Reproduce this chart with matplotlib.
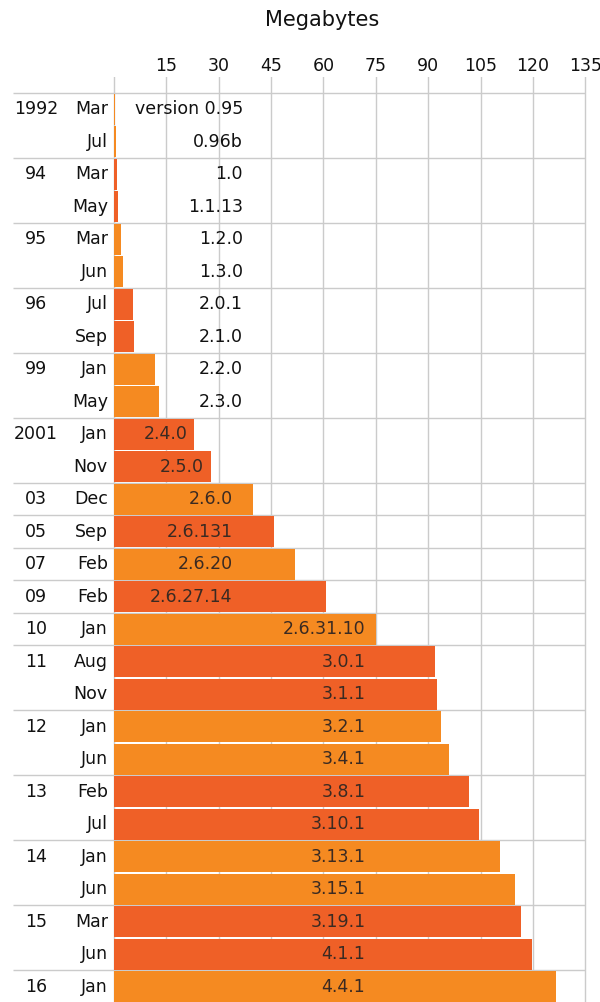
import matplotlib
matplotlib.use("Agg")
from matplotlib import pyplot as plt

# Linux kernel tarball sizes (MB)
years = ["1992", "", "94", "", "95", "", "96", "", "99", "", "2001", "",
         "03", "05", "07", "09", "10", "11", "", "12", "", "13", "", "14", "",
         "15", "", "16"]
months = ["Mar", "Jul", "Mar", "May", "Mar", "Jun", "Jul", "Sep", "Jan", "May",
          "Jan", "Nov", "Dec", "Sep", "Feb", "Feb", "Jan", "Aug", "Nov", "Jan",
          "Jun", "Feb", "Jul", "Jan", "Jun", "Mar", "Jun", "Jan"]
versions = ["version 0.95", "0.96b", "1.0", "1.1.13", "1.2.0", "1.3.0", "2.0.1",
            "2.1.0", "2.2.0", "2.3.0", "2.4.0", "2.5.0", "2.6.0", "2.6.131",
            "2.6.20", "2.6.27.14", "2.6.31.10", "3.0.1", "3.1.1", "3.2.1",
            "3.4.1", "3.8.1", "3.10.1", "3.13.1", "3.15.1", "3.19.1", "4.1.1",
            "4.4.1"]
sizes = [0.4, 0.5, 0.9, 1.1, 2.2, 2.5, 5.5, 5.8, 11.8, 12.9, 23.0, 27.8,
         39.8, 45.8, 51.8, 60.6, 75.0, 91.8, 92.6, 93.7, 95.9, 101.7, 104.6,
         110.6, 114.7, 116.6, 119.7, 126.6]
ticks = [15, 30, 45, 60, 75, 90, 105, 120, 135]

light = "#f58a21"
dark = "#ef6027"
grid_c = "#cbcbcb"
txt = "#111111"

plt.rcParams["font.family"] = ["DejaVu Sans"]

fig = plt.figure(figsize=(6, 10.02), dpi=100)
ax = fig.add_axes([0, 0, 1, 1 - 77 / 1002])

# group index -> alternating colours
group = -1
groups = []
for y in years:
    if y:
        group += 1
    groups.append(group)
colors = [light if g % 2 == 0 else dark for g in groups]

rows = list(range(len(sizes)))
ax.barh(rows, sizes, height=0.94, color=colors, zorder=3)

ax.set_xlim(-32.57, 139.16)
ax.set_ylim(27.47, -0.992)
for s in ax.spines.values():
    s.set_visible(False)

ax.xaxis.tick_top()
ax.set_xticks(ticks)
ax.tick_params(axis="x", length=0, pad=1.5, labelsize=12.5, labelcolor=txt)
ax.set_yticks([])
ax.grid(axis="x", color=grid_c, lw=1, zorder=1)
ax.axvline(0, color=grid_c, lw=1, zorder=1)

# separators between year groups
starts = [i for i, y in enumerate(years) if y]
ax.hlines([i - 0.5 for i in starts], -28.85, 135, color=grid_c, lw=1, zorder=2)

for i in rows:
    if years[i]:
        ax.text(-22.2, i, years[i], ha="center", va="center", fontsize=12.5,
                color=txt)
    ax.text(-1.7, i, months[i], ha="right", va="center", fontsize=12.5,
            color=txt)
    v = sizes[i]
    if v < 20:
        xr, c = 37, txt
    elif v < 70:
        xr, c = min(v - 2, 34), "#3a2a22"
    else:
        xr, c = 72, "#3a2a22"
    ax.text(xr, i, versions[i], ha="right", va="center", fontsize=12.5,
            color=c, zorder=4)

fig.text(322 / 600, 1 - 20 / 1002, "Megabytes", ha="center", va="center",
         fontsize=15, color=txt)

fig.savefig("out.png", dpi=100)
